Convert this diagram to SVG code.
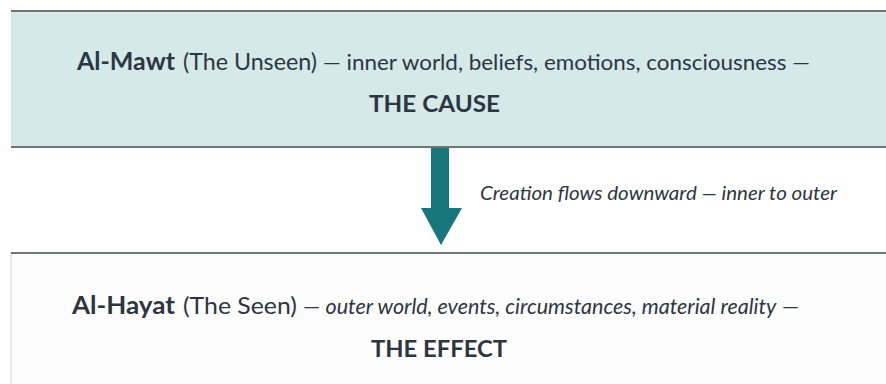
<svg xmlns="http://www.w3.org/2000/svg" width="886" height="384" viewBox="0 0 886 384">
  <style>
    .t { font-family: Lato, "Open Sans", "Liberation Sans", sans-serif; fill: #2c3643; }
    .b { font-weight: 700; }
    .i { font-style: italic; }
    .name { font-size: 24px; }
    .par { font-size: 23px; }
    .desc { font-size: 22px; }
    .title { font-size: 23px; font-weight: 700; }
    .edge { stroke: #707479; stroke-width: 2; }
  </style>
  <rect x="0" y="0" width="886" height="384" fill="#ffffff"/>

  <!-- upper layer: the unseen -->
  <g id="al-mawt">
    <rect x="11" y="11" width="880" height="136" fill="#d5e9e9"/>
    <line class="edge" x1="11" y1="11" x2="886" y2="11"/>
    <line class="edge" x1="11" y1="147" x2="886" y2="147"/>
    <text class="t name b" x="77" y="70" textLength="98" lengthAdjust="spacingAndGlyphs">Al-Mawt</text>
    <text class="t par" x="183" y="70" textLength="134" lengthAdjust="spacingAndGlyphs">(The Unseen)</text>
    <text class="t desc" x="323" y="70" textLength="487" lengthAdjust="spacingAndGlyphs">— inner world, beliefs, emotions, consciousness —</text>
    <text class="t title" x="369" y="112" textLength="131" lengthAdjust="spacingAndGlyphs">THE CAUSE</text>
  </g>

  <!-- lower layer: the seen -->
  <g id="al-hayat">
    <rect x="11" y="253" width="880" height="140" fill="#fdfdfd" stroke="#d2d4d6" stroke-width="1"/>
    <line class="edge" x1="11" y1="253" x2="886" y2="253"/>
    <text class="t name b" x="72" y="314" textLength="103" lengthAdjust="spacingAndGlyphs">Al-Hayat</text>
    <text class="t par" x="183" y="314" textLength="114" lengthAdjust="spacingAndGlyphs">(The Seen)</text>
    <text class="t desc" x="303" y="314" textLength="496" lengthAdjust="spacingAndGlyphs">— <tspan class="i">outer world, events, circumstances, material reality</tspan> —</text>
    <text class="t title" x="371" y="357" textLength="136" lengthAdjust="spacingAndGlyphs">THE EFFECT</text>
  </g>

  <!-- flow connector -->
  <g id="connectors">
    <polygon points="431,148 449,148 449,208 462,208 441,245 421,208 431,208" fill="#17777a"/>
    <text class="t i" x="480" y="200" font-size="20" textLength="357" lengthAdjust="spacingAndGlyphs">Creation flows downward — inner to outer</text>
  </g>
</svg>
